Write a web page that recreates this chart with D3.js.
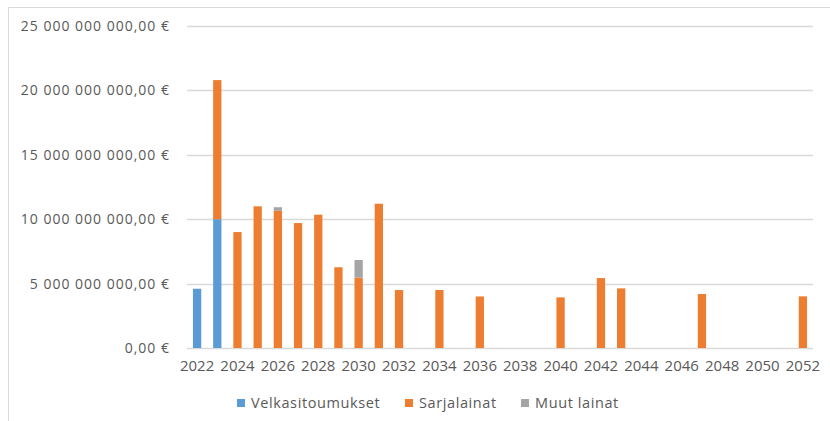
<!DOCTYPE html>
<html>
<head>
<meta charset="utf-8">
<script src="https://cdn.jsdelivr.net/npm/d3@7"></script>
<style>
  body { margin: 0; background: #fff; }
  svg { display: block; font-family: "Open Sans", sans-serif; }
</style>
</head>
<body>
<svg id="chart" width="830" height="421"></svg>
<script>
const years = d3.range(2022, 2053).map(String)
const seriesNames = ['Velkasitoumukset', 'Sarjalainat', 'Muut lainat']
const colors = ['#5B9BD5', '#ED7D31', '#A5A5A5']

// billions of euros
const velkasitoumukset = [4.6, 10.0, 0, 0, 0, 0, 0, 0, 0, 0, 0, 0, 0, 0, 0, 0, 0, 0, 0, 0, 0, 0, 0, 0, 0, 0, 0, 0, 0, 0, 0]
const sarjalainat = [0, 10.8, 9.0, 11.0, 10.65, 9.7, 10.35, 6.27, 5.46, 11.2, 4.5, 0, 4.5, 0, 4.0, 0, 0, 0, 3.93, 0, 5.43, 4.63, 0, 0, 0, 4.19, 0, 0, 0, 0, 4.01]
const muutLainat = [0, 0, 0, 0, 0.28, 0, 0, 0, 1.37, 0, 0, 0, 0, 0, 0, 0, 0, 0, 0, 0, 0, 0, 0, 0, 0, 0, 0, 0, 0, 0, 0]
const yTicks = [0, 5e9, 10e9, 15e9, 20e9, 25e9]

const rows = years.map((y, i) => ({
  year: y,
  Velkasitoumukset: velkasitoumukset[i] * 1e9,
  Sarjalainat: sarjalainat[i] * 1e9,
  'Muut lainat': muutLainat[i] * 1e9,
}))

const svg = d3.select('#chart')
const margin = { left: 187, right: 17, top: 26, bottom: 73 }
const width = 830, height = 421

// outer frame of the chart area
svg.append('path')
  .attr('d', `M8.5,${height} V7.5 H${width}`)
  .attr('fill', 'none')
  .attr('stroke', '#D9D9D9')
  .attr('stroke-width', 1)

const x = d3.scaleBand()
  .domain(years)
  .range([margin.left, width - margin.right])
  .paddingInner(0.59)
  .paddingOuter(0.295)

const y = d3.scaleLinear()
  .domain([0, 25e9])
  .range([height - margin.bottom, margin.top])

const fmt = (v) => {
  const s = d3.format(',.2f')(v)
  return s.replace(/,/g, ' ').replace('.', ',') + ' €'
}

// gridlines
svg.append('g')
  .selectAll('line')
  .data(yTicks)
  .join('line')
  .attr('x1', margin.left)
  .attr('x2', width - margin.right)
  .attr('y1', (d) => Math.round(y(d)) + 0.5)
  .attr('y2', (d) => Math.round(y(d)) + 0.5)
  .attr('stroke', '#D9D9D9')
  .attr('stroke-width', 1.3)

// y labels
svg.append('g')
  .selectAll('text')
  .data(yTicks)
  .join('text')
  .attr('x', 170)
  .attr('y', (d) => y(d))
  .attr('dy', '0.35em')
  .attr('text-anchor', 'end')
  .attr('fill', '#595959')
  .attr('font-size', 14)
  .attr('letter-spacing', 1)
  .text(fmt)

const stack = d3.stack().keys(seriesNames)(rows)

svg.append('g')
  .selectAll('g')
  .data(stack)
  .join('g')
  .attr('fill', (_, i) => colors[i])
  .selectAll('rect')
  .data((d) => d)
  .join('rect')
  .attr('x', (d) => x(d.data.year))
  .attr('width', x.bandwidth())
  .attr('y', (d) => y(d[1]))
  .attr('height', (d) => y(d[0]) - y(d[1]))

// x labels, every second year
const xAxis = d3.axisBottom(x)
  .tickValues(years.filter((_, i) => i % 2 === 0))
  .tickSize(0)
  .tickPadding(12)

const gx = svg.append('g')
  .attr('transform', `translate(0,${height - margin.bottom})`)
  .call(xAxis)
gx.select('.domain').remove()
gx.selectAll('text')
  .attr('fill', '#595959')
  .attr('font-size', 15)
  .attr('font-family', '"Open Sans", sans-serif')

// legend
const legendX = [237, 405, 521]
const legend = svg.append('g')
  .selectAll('g')
  .data(seriesNames)
  .join('g')
  .attr('transform', (_, i) => `translate(${legendX[i]},403)`)
legend.append('rect')
  .attr('y', -4)
  .attr('width', 8)
  .attr('height', 8)
  .attr('fill', (_, i) => colors[i])
legend.append('text')
  .attr('x', 14)
  .attr('dy', '0.35em')
  .attr('fill', '#595959')
  .attr('font-size', 14.5)
  .attr('letter-spacing', 0.6)
  .text((d) => d)
</script>
</body>
</html>
